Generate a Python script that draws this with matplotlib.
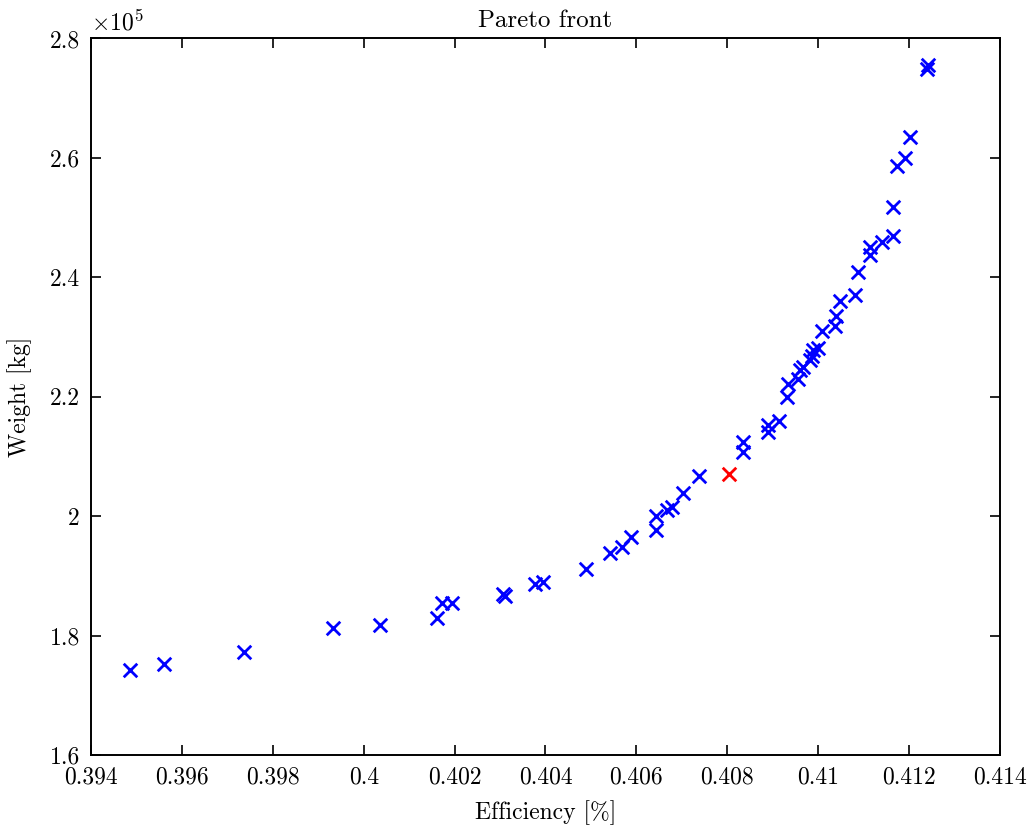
import matplotlib
matplotlib.use("Agg")
import matplotlib.pyplot as plt
from matplotlib.ticker import FuncFormatter

plt.rcParams['font.family'] = 'serif'
plt.rcParams['font.serif'] = ['cmr10', 'DejaVu Serif']
plt.rcParams['mathtext.fontset'] = 'cm'
plt.rcParams['axes.unicode_minus'] = False

efficiency = [0.394858, 0.395606, 0.397366, 0.399325, 0.400348, 0.401606, 0.401716,
              0.401936, 0.403072, 0.403109, 0.403769, 0.403952, 0.404884, 0.405419,
              0.405677, 0.405875, 0.406431, 0.406431, 0.406667, 0.406777, 0.407019,
              0.407384, 0.408339, 0.408339, 0.408902, 0.408902, 0.409144, 0.409307,
              0.409342, 0.409562, 0.409600, 0.409666, 0.409820, 0.409857, 0.409892,
              0.410002, 0.410077, 0.410370, 0.410392, 0.410480, 0.410810, 0.410882,
              0.411140, 0.411140, 0.411397, 0.411639, 0.411653, 0.411727, 0.411910,
              0.412020, 0.412387, 0.412422]
weight = [174200, 175300, 177300, 181200, 181800, 182900, 185400,
          185400, 186900, 186700, 188700, 189000, 191200, 193800,
          194900, 196500, 197700, 200000, 201000, 201600, 203900,
          206700, 210800, 212400, 214100, 215200, 215900, 219900,
          222100, 223000, 224400, 224900, 226100, 226900, 227800,
          228100, 231000, 231800, 233600, 236000, 237000, 240900,
          243700, 245100, 245900, 247000, 251800, 258600, 259900,
          263500, 274900, 275600]
selected_efficiency = [0.408044]
selected_weight = [207000]

x_ticks = [0.394, 0.396, 0.398, 0.4, 0.402, 0.404, 0.406, 0.408, 0.41, 0.412, 0.414]
y_ticks = [160000, 180000, 200000, 220000, 240000, 260000, 280000]

fig = plt.figure(figsize=(10.35, 8.31), dpi=100)
ax = fig.add_axes([0.0879, 0.0915, 0.9662 - 0.0879, 0.9537 - 0.0915])

ax.scatter(efficiency, weight, marker='x', s=95, linewidths=2.0, color=(0, 0, 1), zorder=3)
ax.scatter(selected_efficiency, selected_weight, marker='x', s=95, linewidths=2.0,
           color=(1, 0, 0), zorder=4)

ax.set_xlim(x_ticks[0], x_ticks[-1])
ax.set_ylim(y_ticks[0], y_ticks[-1])
ax.set_xticks(x_ticks)
ax.set_yticks(y_ticks)
ax.xaxis.set_major_formatter(FuncFormatter(lambda v, p: '%g' % round(v, 6)))
ax.yaxis.set_major_formatter(FuncFormatter(lambda v, p: '%g' % round(v / 1e5, 6)))

ax.tick_params(direction='in', top=True, right=True, length=7, width=1.2,
               labelsize=17, pad=8)
for s in ax.spines.values():
    s.set_linewidth(1.4)

ax.text(0.0, 1.005, r'$\times 10^5$', transform=ax.transAxes, fontsize=17,
        ha='left', va='bottom')

ax.set_title('Pareto front', fontsize=18, pad=8)
ax.set_xlabel('Efficiency [%]', fontsize=17, labelpad=9)
ax.set_ylabel('Weight [kg]', fontsize=17, labelpad=13)

fig.savefig('out.png', dpi=100)
